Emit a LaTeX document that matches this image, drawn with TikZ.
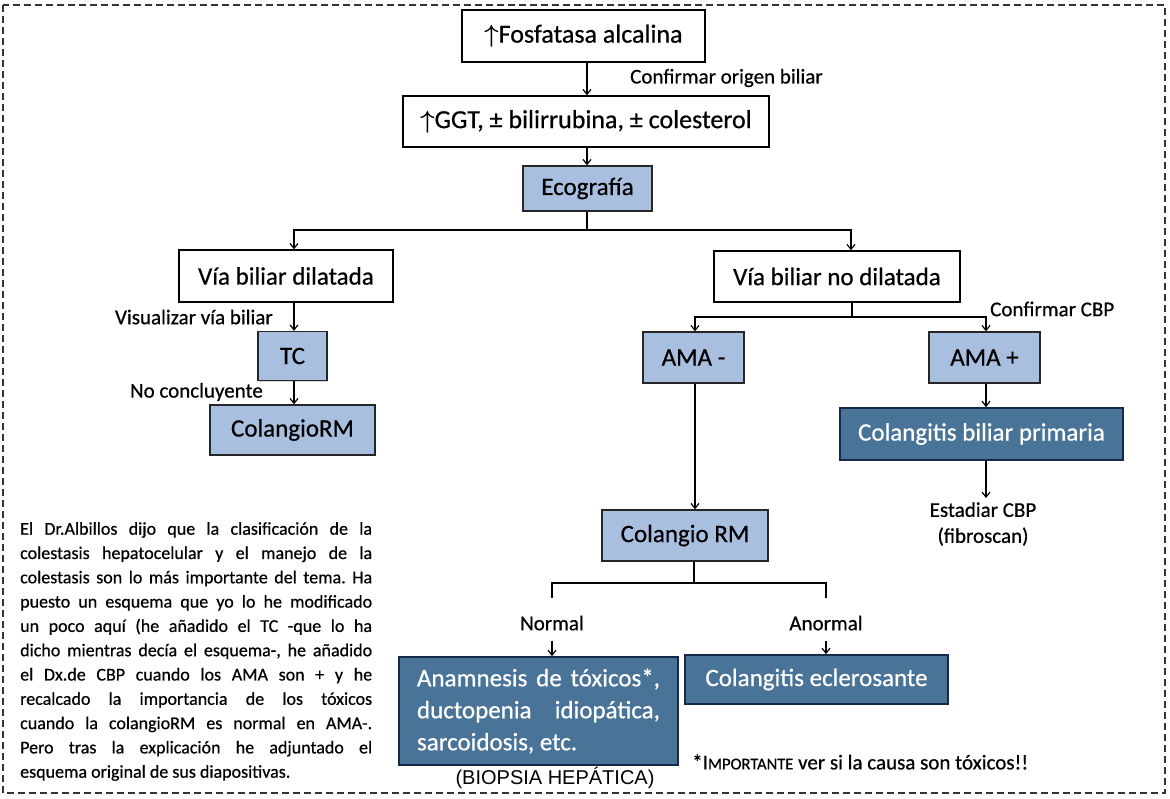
\documentclass[tikz,border=0pt]{standalone}
\usepackage{amsmath}
\usepackage{fontspec}
\setmainfont{Carlito}[FakeBold=0.6]
\newfontfamily\arialf{Liberation Sans}
\usetikzlibrary{arrows.meta,shadows}
\definecolor{lblue}{HTML}{A9BFDF}
\definecolor{dblue}{HTML}{4A7398}
\definecolor{navy}{HTML}{15294A}
\frenchspacing
\begin{document}
\begin{tikzpicture}[x=1pt,y=-1pt,
 box/.style={draw=black,line width=1.3pt,fill=white,inner sep=0pt,font=\fontsize{25}{30}\selectfont},
 tbox/.style={box,font=\fontsize{26}{30}\selectfont},
 lbox/.style={box,fill=lblue,draw=black!85,drop shadow={shadow xshift=1.2pt,shadow yshift=-1.2pt,opacity=0.35}},
 dbox/.style={box,fill=dblue,draw=navy,line width=1.7pt,text=white,drop shadow={shadow xshift=1.2pt,shadow yshift=-1.2pt,opacity=0.35}},
 lab/.style={inner sep=0pt,font=\fontsize{21}{26}\selectfont},
 conn/.style={line width=1.2pt},
 arr/.style={conn,-{Straight Barb[length=5pt,width=8pt]}}]
\useasboundingbox (0,0) rectangle (1170,799);
\draw[dash pattern=on 7pt off 4pt, line width=1.8pt, black!80] (3,5) rectangle (1165,793);

% boxes
\node[tbox, minimum width=243pt, minimum height=52pt] (fa) at (583.5,36) {$\boldsymbol{\uparrow}$Fosfatasa alcalina};
\node[tbox, minimum width=366pt, minimum height=51pt] (ggt) at (586,121.5) {$\boldsymbol{\uparrow}$GGT, ± bilirrubina, ± colesterol};
\node[lbox, minimum width=129pt, minimum height=45pt] (eco) at (587.5,188.5) {Ecografía};
\node[box, minimum width=214pt, minimum height=52pt] (vbd) at (286,276) {Vía biliar dilatada};
\node[box, minimum width=246pt, minimum height=51pt] (vbnd) at (837,276.5) {Vía biliar no dilatada};
\node[lbox, minimum width=69pt, minimum height=49pt] (tc) at (292.5,356) {TC};
\node[lbox, minimum width=165pt, minimum height=50pt] (crm1) at (292.5,430) {ColangioRM};
\node[lbox, minimum width=101pt, minimum height=51pt] (amam) at (693.5,357.5) {AMA -};
\node[lbox, minimum width=111pt, minimum height=51pt] (amap) at (984.5,357.5) {AMA +};
\node[dbox, minimum width=283pt, minimum height=52pt] (cbp) at (981.5,434) {Colangitis biliar primaria};
\node[lbox, minimum width=166pt, minimum height=51pt] (crm2) at (685,535.5) {Colangio RM};
\node[dbox, minimum width=279pt, minimum height=108pt, text width=243pt, align=justify, font=\fontsize{25}{32}\selectfont] (anam) at (538.5,711) {Anamnesis de tóxicos*,\linebreak ductopenia idiopática,\linebreak sarcoidosis, etc.};
\node[dbox, minimum width=263pt, minimum height=49pt] (ce) at (816.5,679.5) {Colangitis eclerosante};

% labels
\node[lab, anchor=west] (l1) at (630,78) {Confirmar origen biliar};
\node[lab, anchor=east] (l2) at (273,317) {Visualizar vía biliar};
\node[lab, anchor=east] (l3) at (263,392) {No concluyente};
\node[lab, anchor=west] (l4) at (990,309) {Confirmar CBP};
\node[lab, align=center, inner sep=4pt] (estad) at (983,524) {Estadiar CBP\\(fibroscan)};
\node[lab] (normal) at (552,623) {Normal};
\node[lab] (anormal) at (826,623) {Anormal};
\node[inner sep=0pt, font=\arialf\fontsize{20}{24}\selectfont] (biop) at (555,778) {(BIOPSIA HEPÁTICA)};
\node[lab, anchor=west] (imp) at (692,762) {*I{\fontsize{16.5}{20}\selectfont MPORTANTE} ver si la causa son tóxicos!!};
\node[inner sep=0pt, text width=352pt, align=justify, anchor=north west, font=\fontsize{18}{24.3}\selectfont] (note) at (20,522) {El Dr.Albillos dijo que la clasificación de la\linebreak colestasis hepatocelular y el manejo de la\linebreak colestasis son lo más importante del tema. Ha\linebreak puesto un esquema que yo lo he modificado\linebreak un poco aquí (he añadido el TC -que lo ha\linebreak dicho mientras decía el esquema-, he añadido\linebreak el Dx.de CBP cuando los AMA son + y he\linebreak recalcado la importancia de los tóxicos\linebreak cuando la colangioRM es normal en AMA-.\linebreak Pero tras la explicación he adjuntado el\linebreak esquema original de sus diapositivas.};

% connectors
\coordinate (j1) at (587,230);
\coordinate (jl) at (294,230);
\coordinate (jr) at (851,230);
\coordinate (xl) at (294,0);
\coordinate (j2) at (852,317);
\coordinate (xam) at (695,0);
\coordinate (xap) at (986,0);
\coordinate (j3) at (694,583);
\coordinate (nl) at (552,598);
\coordinate (nr) at (826,598);

\draw[arr] (fa.south -| j1) -- (ggt.north -| j1);
\draw[arr] (ggt.south -| j1) -- (eco.north -| j1);
\draw[conn] (eco.south -| j1) -- (j1);
\draw[arr] (j1) -| (vbd.north -| jl);
\draw[arr] (j1) -| (vbnd.north -| jr);
\draw[arr] (vbd.south -| xl) -- (tc.north -| xl);
\draw[arr] (tc.south -| xl) -- (crm1.north -| xl);
\draw[conn] (vbnd.south -| j2) -- (j2);
\draw[arr] (j2) -| (amam.north -| xam);
\draw[arr] (j2) -| (amap.north -| xap);
\draw[arr] (amap.south -| xap) -- (cbp.north -| xap);
\draw[arr] (cbp.south -| xap) -- (estad.north -| xap);
\draw[arr] (amam.south -| xam) -- (crm2.north -| xam);
\draw[conn] (crm2.south -| j3) -- (j3);
\draw[conn] (j3) -| (nl);
\draw[conn] (j3) -| (nr);
\draw[arr] (normal.south) ++(0,10) -- (anam.north -| normal);
\draw[arr] (anormal.south) ++(0,10) -- (ce.north -| anormal);
\end{tikzpicture}
\end{document}
